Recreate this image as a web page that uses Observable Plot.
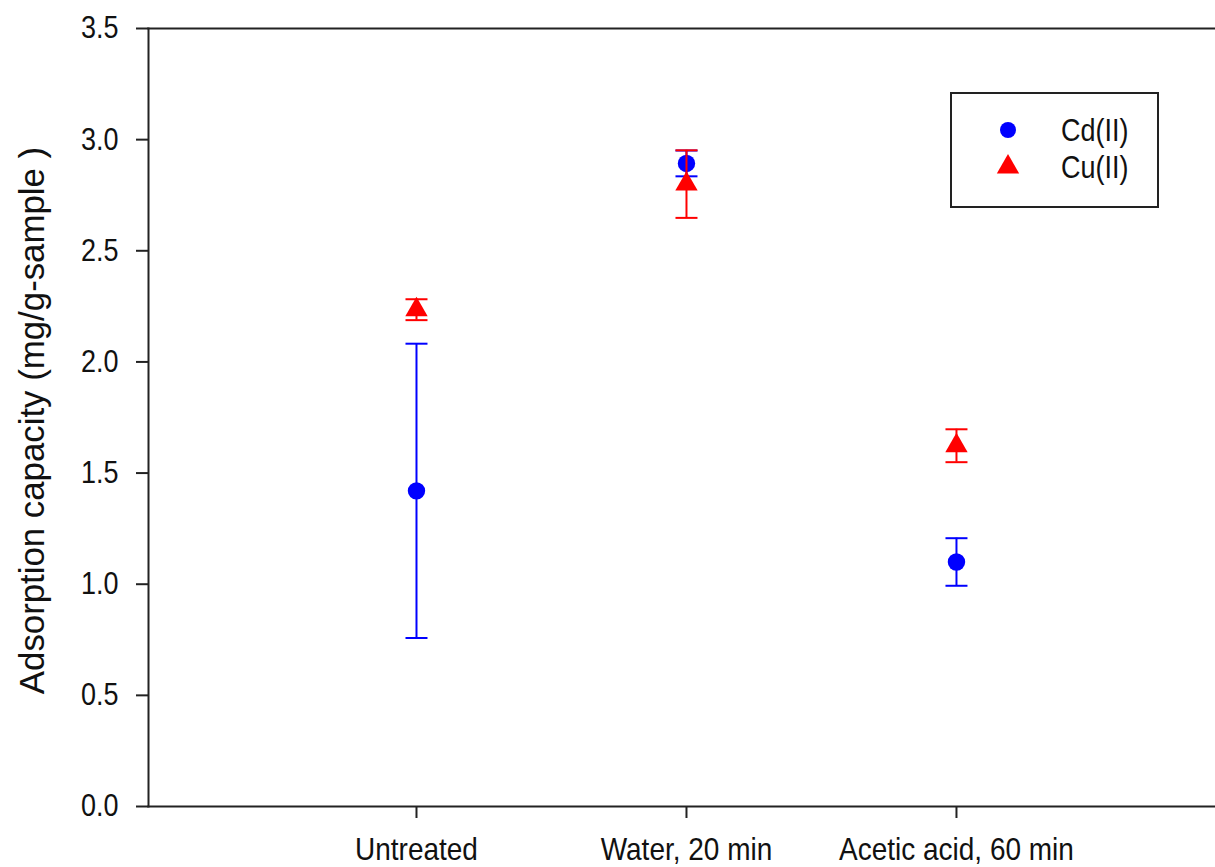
<!DOCTYPE html>
<html><head><meta charset="utf-8">
<script src="https://cdn.jsdelivr.net/npm/d3@7"></script>
<script src="https://cdn.jsdelivr.net/npm/@observablehq/plot@0.6"></script>
<style>
body{margin:0;background:#fff;}
#chart{position:relative;width:1215px;height:867px;overflow:hidden;}
</style></head><body><div id="chart"></div>
<script>
// ---- data ----
const categories = ["Untreated", "Water, 20 min", "Acetic acid, 60 min"];
const positions = [1, 2, 3];
const cdMean = [1.42, 2.893, 1.10];
const cdErr  = [0.662, 0.058, 0.107];
const cuMean = [2.235, 2.80, 1.623];
const cuErr  = [0.047, 0.152, 0.074];
const yTicks = [0, 0.5, 1.0, 1.5, 2.0, 2.5, 3.0, 3.5];
const seriesNames = ["Cd(II)", "Cu(II)"];
const seriesColors = ["#0000ff", "#ff0000"];
const yLabel = "Adsorption capacity (mg/g-sample )";

// ---- table built from arrays ----
function rows(mean, err, series) {
  return positions.map((p, i) => ({pos: p, v: mean[i], lo: mean[i] - err[i], hi: mean[i] + err[i], series}));
}
const cd = rows(cdMean, cdErr, seriesNames[0]);
const cu = rows(cuMean, cuErr, seriesNames[1]);

const FONT = '"Liberation Sans", Arial, sans-serif';
const STRETCH = 1.15;
const capSymbol = {draw(ctx) { ctx.moveTo(-11, 0); ctx.lineTo(11, 0); }};

function errMarks(data, color) {
  return [
    Plot.ruleX(data, {x: "pos", y1: "lo", y2: "hi", stroke: color, strokeWidth: 2}),
    Plot.dot(data, {x: "pos", y: "lo", symbol: capSymbol, stroke: color, strokeWidth: 2, fill: "none"}),
    Plot.dot(data, {x: "pos", y: "hi", symbol: capSymbol, stroke: color, strokeWidth: 2, fill: "none"})
  ];
}

const chart = Plot.plot({
  width: 1215,
  height: 867,
  marginLeft: 148,
  marginTop: 28,
  marginBottom: 61,
  marginRight: 0,
  style: {fontFamily: FONT, fontSize: "28px", color: "#111", background: "#fff", overflow: "visible"},
  x: {type: "linear", domain: [0.00741, 3.9594]},
  y: {domain: [0, 3.5]},
  marks: [
    Plot.frame({anchor: "left", stroke: "#222", strokeWidth: 2}),
    Plot.frame({anchor: "top", stroke: "#222", strokeWidth: 2}),
    Plot.frame({anchor: "bottom", stroke: "#222", strokeWidth: 2}),
    Plot.axisY({ticks: yTicks, tickSize: 12, tickPadding: 18, tickFormat: d => d.toFixed(1), label: null,
      fontSize: 27, fill: "#111", stroke: "#222", strokeWidth: 2, strokeOpacity: 1}),
    Plot.axisX({ticks: positions, tickSize: 12, tickPadding: 19, tickFormat: d => categories[d - 1], label: null,
      fontSize: 28, fill: "#111", stroke: "#222", strokeWidth: 2, strokeOpacity: 1}),
    Plot.text([yLabel], {frameAnchor: "left", dx: -116, dy: 3, rotate: -90, text: d => d, fontSize: 34.8, fill: "#111", textAnchor: "middle"}),
    ...errMarks(cd, seriesColors[0]),
    Plot.dot(cd, {x: "pos", y: "v", r: 8.7, fill: seriesColors[0], symbol: "circle"}),
    ...errMarks(cu, seriesColors[1]),
    Plot.dot(cu, {x: "pos", y: "v", r: 8.3, fill: seriesColors[1], symbol: "triangle"})
  ]
});
document.getElementById("chart").appendChild(chart);

const svg = d3.select(chart);

// vertical stretch of tick labels (as in the reference raster)
function stretch(sel, sx, sy) {
  sel.each(function() {
    const t = d3.select(this);
    const x = +t.attr("x") || 0, y = +t.attr("y") || 0;
    const tr = t.attr("transform") || "";
    t.attr("transform", `${tr} translate(${x},${y}) scale(${sx},${sy}) translate(${-x},${-y})`);
  });
}
stretch(svg.selectAll('g[aria-label="y-axis tick label"] text, g[aria-label="x-axis tick label"] text'), 1, STRETCH);

// ---- legend ----
const lg = svg.append("g");
lg.append("rect").attr("x", 951).attr("y", 93).attr("width", 207).attr("height", 114)
  .attr("fill", "#fff").attr("stroke", "#222").attr("stroke-width", 2);
const syms = [d3.symbolCircle, d3.symbolTriangle];
const areas = [Math.PI * 8 * 8, Math.PI * 8.3 * 8.3];
seriesNames.forEach((name, i) => {
  const cy = 130 + i * 37;
  lg.append("path").attr("d", d3.symbol(syms[i], areas[i])())
    .attr("transform", `translate(1008,${cy})`).attr("fill", seriesColors[i]);
  const t = lg.append("text").attr("x", 1061).attr("y", cy).attr("dy", "0.36em")
    .attr("text-anchor", "start")
    .attr("font-family", FONT).attr("font-size", 27).attr("fill", "#111").text(name);
  t.attr("transform", `translate(1061,${cy}) scale(1,${STRETCH}) translate(-1061,${-cy})`);
});
</script></body></html>
